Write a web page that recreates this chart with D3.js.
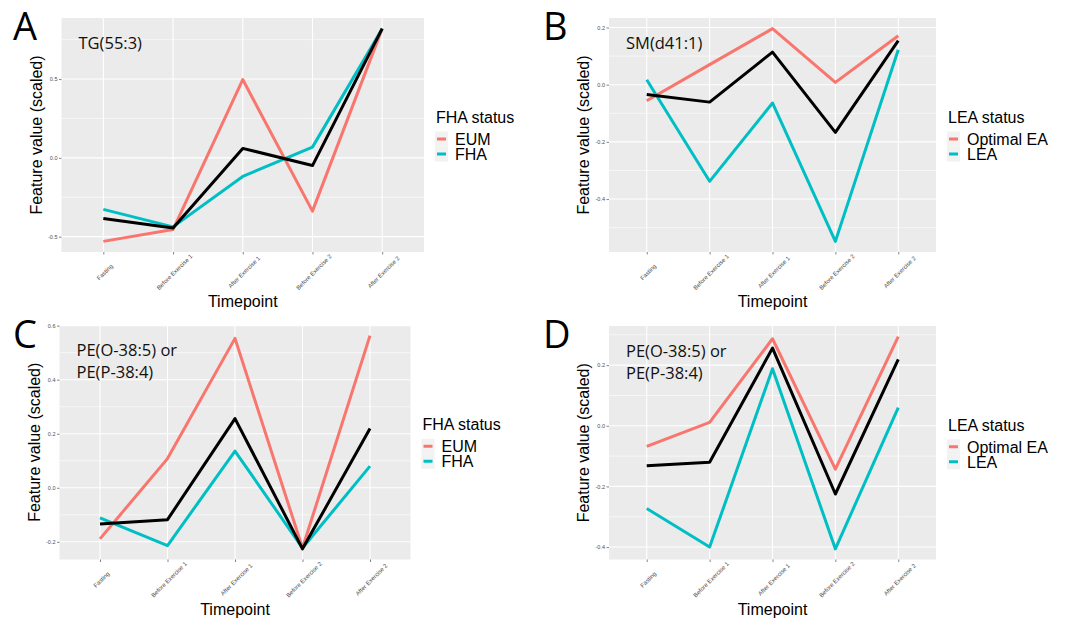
<html>
<head>
<meta charset="utf-8">
<script src="https://cdnjs.cloudflare.com/ajax/libs/d3/7.8.5/d3.min.js"></script>
<style>
body { margin: 0; background: #fff; }
</style>
</head>
<body>
<svg width="1083" height="621"></svg>
<script>
// timepoints on the x axis
var timepoints = ["Fasting", "Before Exercise 1", "After Exercise 1", "Before Exercise 2", "After Exercise 2"];

// A: TG(55:3), FHA status
var aEUM = [-0.53, -0.455, 0.497, -0.338, 0.82];
var aFHA = [-0.327, -0.438, -0.118, 0.068, 0.82];
var aAll = [-0.385, -0.445, 0.06, -0.049, 0.82];
var aTicks = [-0.5, 0, 0.5];

// B: SM(d41:1), LEA status
var bOpt = [-0.056, 0.07, 0.196, 0.008, 0.171];
var bLEA = [0.017, -0.338, -0.064, -0.548, 0.122];
var bAll = [-0.034, -0.061, 0.114, -0.167, 0.154];
var bTicks = [-0.4, -0.2, 0, 0.2];

// C: PE(O-38:5) or PE(P-38:4), FHA status
var cEUM = [-0.189, 0.108, 0.553, -0.223, 0.563];
var cFHA = [-0.111, -0.214, 0.136, -0.223, 0.08];
var cAll = [-0.134, -0.118, 0.256, -0.226, 0.219];
var cTicks = [-0.2, 0, 0.2, 0.4, 0.6];

// D: PE(O-38:5) or PE(P-38:4), LEA status
var dOpt = [-0.068, 0.011, 0.287, -0.143, 0.294];
var dLEA = [-0.273, -0.4, 0.188, -0.406, 0.06];
var dAll = [-0.132, -0.12, 0.256, -0.225, 0.219];
var dTicks = [-0.4, -0.2, 0, 0.2];

var red = "#F8766D", cyan = "#00BFC4";
var sans = "Liberation Sans, Arial, sans-serif";

var panels = [
  {letter: "A", note: ["TG(55:3)"], legend: "FHA status", groups: ["EUM", "FHA"],
   series: [aEUM, aFHA, aAll], ticks: aTicks, box: [61.5, 18, 424, 252], letterPos: [13, 40]},
  {letter: "B", note: ["SM(d41:1)"], legend: "LEA status", groups: ["Optimal EA", "LEA"],
   series: [bOpt, bLEA, bAll], ticks: bTicks, box: [609, 18, 936, 252], letterPos: [543, 40]},
  {letter: "C", note: ["PE(O-38:5) or", "PE(P-38:4)"], legend: "FHA status", groups: ["EUM", "FHA"],
   series: [cEUM, cFHA, cAll], ticks: cTicks, box: [59.5, 325, 410.5, 559.5], letterPos: [13, 348]},
  {letter: "D", note: ["PE(O-38:5) or", "PE(P-38:4)"], legend: "LEA status", groups: ["Optimal EA", "LEA"],
   series: [dOpt, dLEA, dAll], ticks: dTicks, box: [609, 326, 936, 559.5], letterPos: [543, 348]}
];

var svg = d3.select("svg");

panels.forEach(function(p) {
  var L = p.box[0], T = p.box[1], R = p.box[2], B = p.box[3];
  var g = svg.append("g");

  var x = d3.scalePoint().domain(timepoints).range([L, R]).padding(0.6);
  var all = d3.merge(p.series);
  var lo = d3.min(all), hi = d3.max(all), pad = (hi - lo) * 0.05;
  var y = d3.scaleLinear().domain([lo - pad, hi + pad]).range([B, T]);

  g.append("rect").attr("x", L).attr("y", T).attr("width", R - L).attr("height", B - T).attr("fill", "#EBEBEB");

  // minor grid
  var step = p.ticks[1] - p.ticks[0];
  var minors = [];
  for (var v = p.ticks[0] - step / 2; v < hi + pad; v += step) {
    if (v > lo - pad) minors.push(v);
  }
  g.selectAll(".minor").data(minors).enter().append("line")
    .attr("x1", L).attr("x2", R).attr("y1", function(d) { return y(d); }).attr("y2", function(d) { return y(d); })
    .attr("stroke", "#fff").attr("stroke-width", 0.6);
  g.selectAll(".major").data(p.ticks).enter().append("line")
    .attr("x1", L).attr("x2", R).attr("y1", function(d) { return y(d); }).attr("y2", function(d) { return y(d); })
    .attr("stroke", "#fff").attr("stroke-width", 1.1);
  g.selectAll(".vgrid").data(timepoints).enter().append("line")
    .attr("x1", function(d) { return x(d); }).attr("x2", function(d) { return x(d); })
    .attr("y1", T).attr("y2", B).attr("stroke", "#fff").attr("stroke-width", 1.1);

  // axes
  var ya = g.append("g").attr("transform", "translate(" + L + ",0)")
    .call(d3.axisLeft(y).tickValues(p.ticks).tickSize(2.5).tickPadding(1.5)
      .tickFormat(function(d) { return d.toFixed(1); }));
  ya.select(".domain").remove();
  ya.selectAll("line").attr("stroke", "#333").attr("stroke-width", 0.6);
  ya.selectAll("text").attr("font-size", 5.5).attr("fill", "#4D4D4D").attr("font-family", sans);

  var xa = g.append("g").attr("transform", "translate(0," + B + ")")
    .call(d3.axisBottom(x).tickSize(2.5).tickPadding(0));
  xa.select(".domain").remove();
  xa.selectAll("line").attr("stroke", "#333").attr("stroke-width", 0.6);
  xa.selectAll("text").attr("font-size", 6).attr("fill", "#4D4D4D").attr("font-family", sans)
    .attr("text-anchor", "middle").attr("y", 0).attr("dy", "0.35em")
    .attr("transform", "translate(1,20) rotate(-45)");

  // lines
  var line = d3.line().x(function(d, i) { return x(timepoints[i]); }).y(function(d) { return y(d); });
  var cols = [red, cyan, "#000"];
  p.series.forEach(function(s, i) {
    g.append("path").datum(s).attr("d", line).attr("fill", "none")
      .attr("stroke", cols[i]).attr("stroke-width", 3).attr("stroke-linejoin", "round");
  });

  // titles
  g.append("text").attr("x", (L + R) / 2).attr("y", B + 55).attr("text-anchor", "middle")
    .attr("font-family", sans).attr("font-size", 16).text("Timepoint");
  g.append("text").attr("transform", "translate(" + (L - 20) + "," + ((T + B) / 2) + ") rotate(-90)")
    .attr("text-anchor", "middle").attr("font-family", sans).attr("font-size", 16).text("Feature value (scaled)");

  // annotation
  p.note.forEach(function(t, i) {
    g.append("text").attr("x", L + 17).attr("y", T + 31 + i * 22)
      .attr("font-family", "Open Sans, sans-serif").attr("font-size", 16.5).attr("fill", "#111").text(t);
  });

  // panel letter
  g.append("text").attr("x", p.letterPos[0]).attr("y", p.letterPos[1])
    .attr("font-family", "Open Sans, sans-serif").attr("font-size", 38).attr("fill", "#000").text(p.letter);

  // legend
  var lx = R + 12, ly = (T + B) / 2 - 12;
  g.append("text").attr("x", lx).attr("y", ly).attr("font-family", sans).attr("font-size", 16).text(p.legend);
  p.groups.forEach(function(name, i) {
    var cy = ly + 16 + i * 15;
    g.append("rect").attr("x", lx - 1).attr("y", cy - 7.5).attr("width", 13).attr("height", 15).attr("fill", "#F2F2F2");
    g.append("line").attr("x1", lx + 1).attr("x2", lx + 10).attr("y1", cy).attr("y2", cy)
      .attr("stroke", cols[i]).attr("stroke-width", 3);
    g.append("text").attr("x", lx + 19).attr("y", cy + 6).attr("font-family", sans).attr("font-size", 16).text(name);
  });
});
</script>
</body>
</html>
